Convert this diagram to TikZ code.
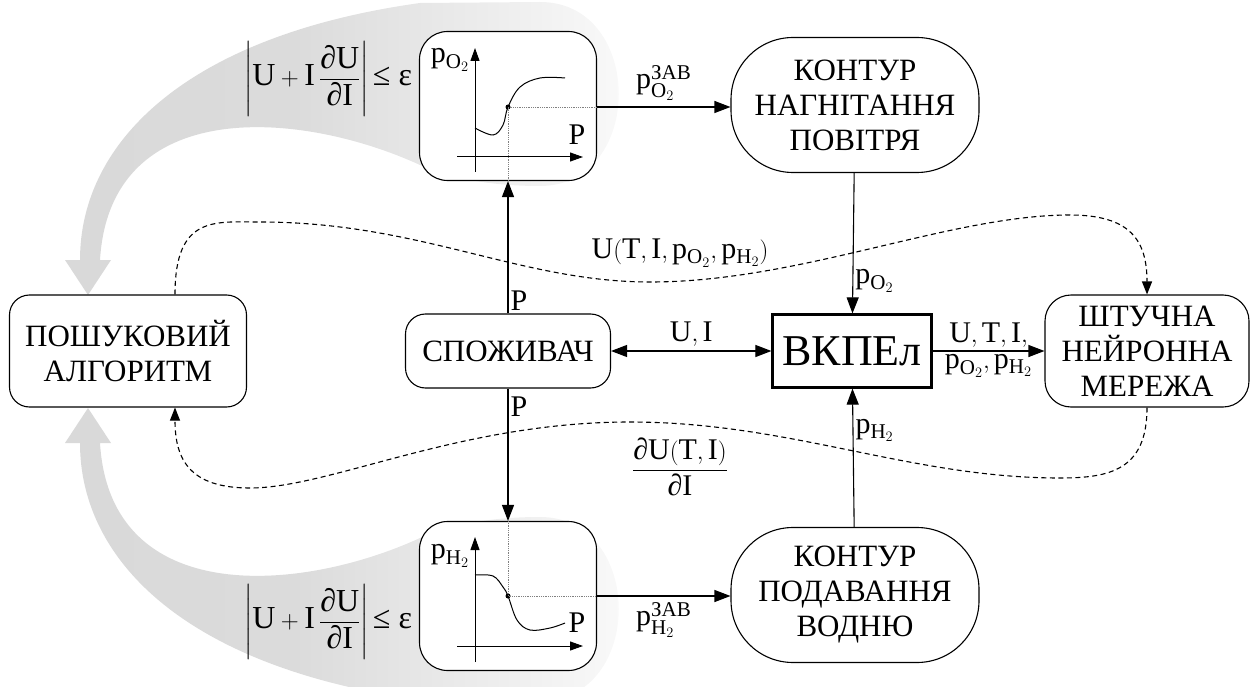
\documentclass[tikz,border=0pt]{standalone}
\usepackage{amsmath}
\usepackage{fontspec}
\setmainfont{Liberation Serif}
\usetikzlibrary{arrows.meta}

\newcommand{\pox}{\mathrm{p}_{\mathrm{O}_2}}
\newcommand{\phx}{\mathrm{p}_{\mathrm{H}_2}}
\newcommand{\crit}{$\left|\mathrm{U}+\mathrm{I}\,\dfrac{\text{∂U}}{\text{∂I}}\right|\text{≤ ε}$}
\pgfdeclarehorizontalshading{bandfade}{100bp}{color(0bp)=(gray!30); color(25bp)=(gray!30);
  color(45bp)=(gray!28); color(62bp)=(gray!14); color(75bp)=(gray!3); color(100bp)=(gray!3)}
% wide grey arrow from a chart to the search block
\newcommand{\greyband}{%
  \shade[shading=bandfade]
    (80,260) .. controls (80,140) and (190,35) .. (420,3)
    -- (540,2) .. controls (645,2) and (645,186) .. (540,186)
    .. controls (490,186) and (450,178) .. (420,165)
    .. controls (300,110) and (110,95) .. (100,260)
    -- (111,260) -- (88,295) -- (65,260) -- cycle;}

\begin{document}
\begin{tikzpicture}[x=1pt,y=-1pt,>={Triangle[length=16pt,width=12pt]},
    unit/.style={draw, line width=1.1pt, rounded corners=20pt, fill=white, align=center, inner sep=0pt, font=\fontsize{31}{35}\selectfont},
    contour/.style={unit, rounded corners=62pt, minimum width=248pt, minimum height=135pt},
    chart/.style={unit, rounded corners=28pt, minimum width=177pt, minimum height=149pt},
    core/.style={draw, line width=2.2pt, fill=white, minimum width=159pt, minimum height=73pt, font=\fontsize{44}{48}\selectfont},
    link/.style={line width=1.1pt, ->},
    feedback/.style={line width=1.1pt, dash pattern=on 5pt off 3.5pt, -{Triangle[length=13pt,width=10pt]}},
    guide/.style={densely dotted, line width=0.8pt, gray},
    axis/.style={line width=1pt, -{Triangle[length=13pt,width=9pt]}},
    formula/.style={font=\fontsize{32}{38}\selectfont},
    font=\fontsize{30}{35}\selectfont]
  \useasboundingbox (0,0) rectangle (1252,687);

  % grey arrows
  \greyband
  \begin{scope}[shift={(0,703)}, yscale=-1]
    \greyband
  \end{scope}

  % blocks
  \node[unit, minimum width=237pt, minimum height=112pt] (search) at (128,351) {ПОШУКОВИЙ\\АЛГОРИТМ};
  \node[unit, minimum width=205pt, minimum height=74pt] (consumer) at (508,351) {СПОЖИВАЧ};
  \node[core] (fc) at (852,351) {ВКПЕл};
  \node[unit, rounded corners=26pt, minimum width=204pt, minimum height=112pt] (ann) at (1147,351) {ШТУЧНА\\НЕЙРОННА\\МЕРЕЖА};
  \node[contour] (air) at (855,105) {КОНТУР\\НАГНІТАННЯ\\ПОВІТРЯ};
  \node[contour] (hyd) at (855,595) {КОНТУР\\ПОДАВАННЯ\\ВОДНЮ};
  \node[chart] (chartO) at (508,106) {};
  \node[chart] (chartH) at (508,596) {};

  % oxygen chart
  \draw[axis] (475,172) -- (475,48);
  \draw[axis] (457,157) -- (583,157);
  \draw[line width=1pt] plot[smooth, tension=0.6] coordinates {(475,128) (493,135) (503,125) (508,107) (520,87) (540,78) (565,78)};
  \coordinate (opO) at (508,107);
  \fill (opO) circle (2.5pt);
  \node (pO) at (450,60) {$\pox$};
  \node (PO) at (577,135) {P};

  % hydrogen chart
  \draw[axis] (475,662) -- (475,537);
  \draw[axis] (457,646) -- (583,646);
  \draw[line width=1pt] plot[smooth, tension=0.6] coordinates {(475,575) (493,576) (503,587) (508,596) (517,620) (530,630) (550,628) (565,623)};
  \coordinate (opH) at (508,596);
  \fill (opH) circle (2.5pt);
  \node (pH) at (450,556) {$\phx$};
  \node (PH) at (577,623) {P};

  \node[formula] (critO) at (328,79) {\crit};
  \node[formula] (critH) at (328,622) {\crit};

  % connections
  \draw[link] (consumer) -- node[right, pos=0.1, inner sep=2pt] {P} (chartO);
  \draw[link] (consumer) -- node[right, pos=0.14, inner sep=2pt] {P} (chartH);
  \draw[guide] (chartO.south) -- (opO) -- (opO -| chartO.east);
  \draw[guide] (chartH.north) -- (opH) -- (opH -| chartH.east);
  \draw[link] (opO -| chartO.east) -- node[above, inner sep=6pt] {$\mathrm{p}^{\text{ЗАВ}}_{\mathrm{O}_2}$} (opO -| air.west);
  \draw[link] (opH -| chartH.east) -- node[below, inner sep=6pt] {$\mathrm{p}^{\text{ЗАВ}}_{\mathrm{H}_2}$} (opH -| hyd.west);
  \draw[link] (air) -- node[right, pos=0.77, inner sep=2pt] {$\pox$} (fc);
  \draw[link] (hyd) -- node[right, pos=0.7, inner sep=2pt] {$\phx$} (fc);
  \draw[line width=1.1pt, <->] (consumer) -- node[above, inner sep=4pt] {$\mathrm{U},\mathrm{I}$} (fc);
  \draw[link] (fc) -- node[above, inner sep=3pt] {$\mathrm{U},\mathrm{T},\mathrm{I},$}
    node[below, inner sep=3pt] {$\pox,\phx$} (ann);

  % model feedback
  \draw[feedback] ([xshift=47pt]search.north) .. controls (175,215) and (215,222) .. (260,222)
    .. controls (420,222) and (520,282) .. (650,282)
    .. controls (800,282) and (950,215) .. (1070,215)
    .. controls (1130,215) and (1147,240) .. (ann.north);
  \node (volt) at (680,253) {$\mathrm{U}(\mathrm{T},\mathrm{I},\pox,\phx)$};
  \draw[feedback] (ann.south) .. controls (1147,470) and (1110,478) .. (1060,478)
    .. controls (910,478) and (790,422) .. (630,422)
    .. controls (460,422) and (330,488) .. (250,488)
    .. controls (190,488) and (175,460) .. ([xshift=47pt]search.south);
  \node (deriv) at (680,467) {$\dfrac{\text{∂U}(\mathrm{T},\mathrm{I})}{\text{∂I}}$};
\end{tikzpicture}
\end{document}
